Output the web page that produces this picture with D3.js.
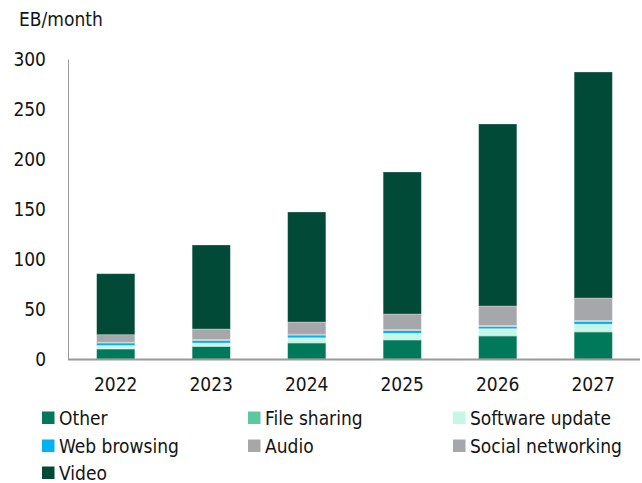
<!DOCTYPE html>
<html>
<head>
<meta charset="utf-8">
<script src="https://cdn.jsdelivr.net/npm/d3@7"></script>
<style>
  html, body { margin: 0; padding: 0; background: #fff; }
  svg text { font-family: "DejaVu Sans Condensed", "Lato", sans-serif; fill: #141414; }
</style>
</head>
<body>
<svg id="chart" width="642" height="483"></svg>
<script>
// Mobile data traffic by application category, EB/month
const years = ["2022", "2023", "2024", "2025", "2026", "2027"];
const other          = [10, 12.5, 16, 19, 23, 27];
const fileSharing    = [0.5, 0.5, 0.7, 0.7, 0.8, 0.8];
const softwareUpdate = [3, 3, 4.5, 6, 6.5, 7];
const webBrowsing    = [2.5, 2.5, 2.7, 2.7, 2.3, 2.7];
const audio          = [0.8, 1, 1, 1, 1, 1];
const socialNetworking = [7.5, 10.5, 12.1, 15.6, 19.4, 22.5];
const video          = [61, 84, 110, 142, 182, 226];
const yTicks = [0, 50, 100, 150, 200, 250, 300];

const seriesNames = ["Other", "File sharing", "Software update", "Web browsing", "Audio", "Social networking", "Video"];
const seriesValues = [other, fileSharing, softwareUpdate, webBrowsing, audio, socialNetworking, video];
const seriesColors = ["#00785a", "#5cc7a3", "#c6f6e6", "#00b2f2", "#a7a7aa", "#a6a7ab", "#004a37"];

const rows = years.map((yr, i) => {
  const r = { year: yr };
  seriesNames.forEach((n, k) => { r[n] = seriesValues[k][i]; });
  return r;
});
const stacked = d3.stack().keys(seriesNames)(rows);

const svg = d3.select("#chart");
const plotLeft = 68, plotRight = 641, plotTop = 59, plotBottom = 359;
const fontSize = 19;

const x = d3.scaleBand().domain(years).range([plotLeft, plotRight]).paddingInner(0.6).paddingOuter(0.3);
const y = d3.scaleLinear().domain([0, 300]).range([plotBottom, plotTop]);

// bars
svg.append("g").selectAll("g").data(stacked).join("g")
  .attr("fill", (d, i) => seriesColors[i])
  .selectAll("rect").data(d => d).join("rect")
  .attr("x", d => x(d.data.year))
  .attr("width", x.bandwidth())
  .attr("y", d => y(d[1]))
  .attr("height", d => y(d[0]) - y(d[1]))
  .attr("stroke", "#ffffff")
  .attr("stroke-opacity", 0.35)
  .attr("stroke-width", 0.8);

// y axis
const yAxis = svg.append("g").attr("transform", `translate(${plotLeft},0)`)
  .call(d3.axisLeft(y).tickValues(yTicks).tickSize(0).tickPadding(22));
yAxis.select(".domain").attr("stroke", "#9a9a9a").attr("stroke-width", 1);
yAxis.selectAll(".tick text").attr("font-size", fontSize).attr("fill", "#141414")
  .style("font-family", "\"DejaVu Sans Condensed\", \"Lato\", sans-serif");

// x axis
const xAxis = svg.append("g").attr("transform", `translate(0,${plotBottom})`)
  .call(d3.axisBottom(x).tickSize(0).tickPadding(19));
xAxis.select(".domain").attr("stroke", "#9a9a9a").attr("stroke-width", 2)
  .attr("d", `M${plotLeft},0.5H${plotRight - 1}`);
xAxis.selectAll(".tick text").attr("font-size", fontSize).attr("fill", "#141414")
  .style("font-family", "\"DejaVu Sans Condensed\", \"Lato\", sans-serif");

// unit label
svg.append("text").attr("x", 19).attr("y", 26).attr("font-size", fontSize).text("EB/month");

// legend
const legendCols = [42, 248, 453];
const legendRows = [418, 446, 473];
const legend = svg.append("g").selectAll("g").data(seriesNames).join("g")
  .attr("transform", (d, i) => `translate(${legendCols[i % 3]},${legendRows[Math.floor(i / 3)]})`);
legend.append("rect").attr("x", 0).attr("y", -6.5).attr("width", 12.5).attr("height", 12.5)
  .attr("fill", (d, i) => seriesColors[i]);
legend.append("text").attr("x", 17).attr("dy", "0.36em").attr("font-size", fontSize).text(d => d);
</script>
</body>
</html>
